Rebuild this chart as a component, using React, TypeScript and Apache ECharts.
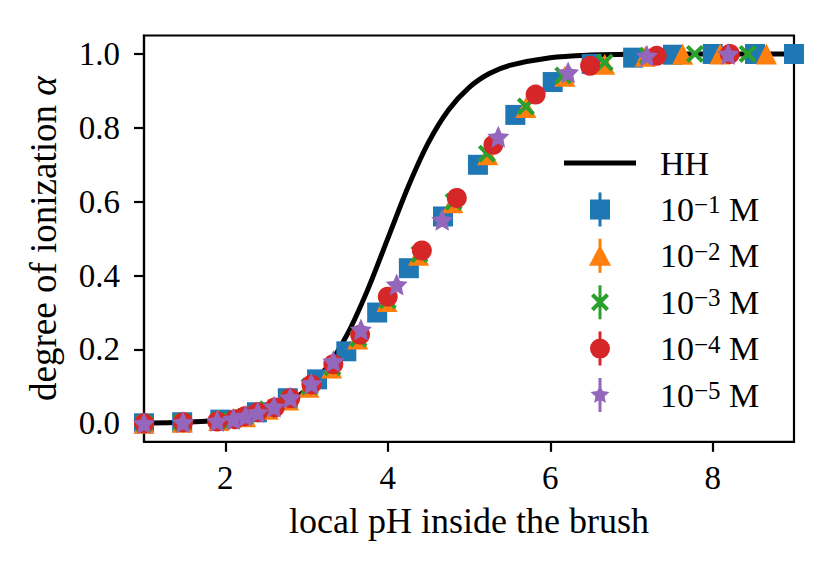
import React, { useEffect, useRef } from "react";
import * as echarts from "echarts";

const FONT = "Liberation Serif";

const X_TICKS = [2, 4, 6, 8];
const Y_TICKS = [0, 0.2, 0.4, 0.6, 0.8, 1.0];

const HH_PH = [1, 1.5, 2, 2.25, 2.5, 2.75, 3, 3.25, 3.5, 3.75, 4, 4.25, 4.5, 4.75, 5, 5.25, 5.5, 6, 6.5, 7, 8, 9];
const HH_ALPHA = [0.001, 0.003, 0.01, 0.018, 0.031, 0.053, 0.091, 0.151, 0.24, 0.36, 0.5, 0.64, 0.76, 0.849, 0.909, 0.947, 0.969, 0.99, 0.997, 0.999, 1.0, 1.0];

const PH_1 = [1.0, 1.47, 1.94, 2.39, 2.77, 3.13, 3.49, 3.87, 4.26, 4.68, 5.11, 5.57, 6.03, 6.51, 7.02, 7.51, 8.0, 8.52, 9.0];
const A_1 = [0.0, 0.003, 0.01, 0.03, 0.068, 0.119, 0.195, 0.3, 0.42, 0.56, 0.7, 0.835, 0.924, 0.973, 0.99, 0.998, 1.0, 1.0, 1.0];

const PH_2 = [1.0, 1.47, 1.92, 2.25, 2.53, 2.78, 3.03, 3.31, 3.63, 3.99, 4.38, 4.8, 5.23, 5.7, 6.18, 6.67, 7.17, 7.63, 8.09, 8.66];
const A_2 = [0.0, 0.003, 0.008, 0.018, 0.038, 0.063, 0.098, 0.15, 0.228, 0.33, 0.455, 0.597, 0.727, 0.855, 0.94, 0.972, 0.994, 0.999, 1.0, 1.0];

const PH_3 = [1.0, 1.47, 1.92, 2.24, 2.52, 2.78, 3.04, 3.32, 3.64, 4.0, 4.39, 4.81, 5.22, 5.7, 6.16, 6.67, 7.2, 7.78, 8.43];
const A_3 = [0.0, 0.003, 0.008, 0.018, 0.038, 0.064, 0.1, 0.152, 0.23, 0.333, 0.458, 0.6, 0.73, 0.858, 0.942, 0.977, 0.995, 1.0, 1.0];

const PH_4 = [1.0, 1.48, 1.9, 2.12, 2.24, 2.4, 2.61, 2.8, 3.06, 3.33, 3.66, 4.0, 4.42, 4.85, 5.3, 5.82, 6.49, 7.31, 8.21];
const A_4 = [0.0, 0.003, 0.005, 0.011, 0.019, 0.03, 0.043, 0.068, 0.105, 0.16, 0.24, 0.343, 0.468, 0.61, 0.754, 0.89, 0.968, 0.995, 1.0];

const PH_5 = [1.0, 1.48, 1.9, 2.1, 2.25, 2.4, 2.6, 2.8, 3.06, 3.33, 3.67, 4.11, 4.67, 5.36, 6.22, 7.19, 8.19];
const A_5 = [0.0, 0.003, 0.006, 0.012, 0.02, 0.03, 0.045, 0.07, 0.108, 0.168, 0.254, 0.376, 0.551, 0.776, 0.95, 0.995, 1.0];

const SERIES_NAMES = ["10^-1 M", "10^-2 M", "10^-3 M", "10^-4 M", "10^-5 M"];
const EXPONENTS = ["1", "2", "3", "4", "5"];
const COLORS = ["#1f77b4", "#ff7f0e", "#2ca02c", "#d62728", "#9467bd"];

const X_PATH = "M0,16L16,0L50,34L84,0L100,16L66,50L100,84L84,100L50,66L16,100L0,84L34,50Z";
const STAR_PATH = "M50,0L64.11,30.58L97.55,34.55L72.83,57.42L79.39,90.45L50,74L20.61,90.45L27.17,57.42L2.45,34.55L35.89,30.58Z";

const BAR = "M8.5,0H11.5V34H8.5Z";
const LEGEND_ICONS = [
  "path://M0,7H20V27H0Z" + BAR,
  "path://M10,6L21,27H-1Z" + BAR,
  "path://M1,10.9L3.9,8L10,14.1L16.1,8L19,10.9L12.9,17L19,23.1L16.1,26L10,19.9L3.9,26L1,23.1L7.1,17Z" + BAR,
  "path://M0,17A10,10 0 1,1 20,17A10,10 0 1,1 0,17Z" + BAR,
  "path://M10,7L12.82,13.12L19.51,13.91L14.57,18.48L15.88,25.09L10,21.8L4.12,25.09L5.43,18.48L0.49,13.91L7.18,13.12Z" + BAR,
];
const SYMBOLS = ["rect", "triangle", "path://" + X_PATH, "circle", "path://" + STAR_PATH];
const SIZES = [20, 21, 18, 20, 22];

function zip(xs: number[], ys: number[]) {
  return xs.map((x, i) => [x, ys[i]]);
}

export default function App() {
  const ref = useRef<HTMLDivElement>(null);
  useEffect(() => {
    if (!ref.current) return;
    const chart = echarts.init(ref.current, undefined, { renderer: "svg" });
    const phs = [PH_1, PH_2, PH_3, PH_4, PH_5];
    const alphas = [A_1, A_2, A_3, A_4, A_5];
    const scatter = SERIES_NAMES.map((name, i) => ({
      type: "scatter",
      name,
      data: zip(phs[i], alphas[i]),
      symbol: SYMBOLS[i],
      symbolSize: SIZES[i],
      itemStyle: { color: COLORS[i], opacity: 1 },
      z: 3 + i,
      silent: true,
    }));
    const axisText = { fontFamily: FONT, fontSize: 33, color: "#000" };
    chart.setOption({
      animation: false,
      grid: {
        left: 144,
        right: 36,
        top: 35.5,
        bottom: 132.2,
        show: true,
        borderColor: "#000",
        borderWidth: 2.2,
      },
      legend: {
        orient: "vertical",
        left: 564,
        top: 146,
        padding: 0,
        itemWidth: 72,
        itemHeight: 34,
        itemGap: 12.4,
        selectedMode: false,
        itemStyle: { borderWidth: 0 },
        data: [
          { name: "HH", icon: "path://M0,0H72V5H0Z" },
          ...SERIES_NAMES.map((n, i) => ({ name: n, icon: LEGEND_ICONS[i] })),
        ],
        formatter: (name: string) => {
          if (name === "HH") return "{t|HH}";
          const i = SERIES_NAMES.indexOf(name);
          return `{t|10}{s|\u2212${EXPONENTS[i]}}{t| M}`;
        },
        textStyle: {
          padding: [0, 0, 0, 19],
          rich: {
            t: { fontFamily: FONT, fontSize: 34, lineHeight: 34, color: "#000", verticalAlign: "bottom" },
            s: { fontFamily: FONT, fontSize: 25, lineHeight: 14, color: "#000", verticalAlign: "top" },
          },
        },
      },
      xAxis: {
        type: "value",
        min: 1,
        max: 9,
        axisLine: { show: true, onZero: false, lineStyle: { color: "#000", width: 2.2 } },
        axisTick: { show: true, length: 10, customValues: X_TICKS, lineStyle: { color: "#000", width: 2.2 } },
        axisLabel: { ...axisText, customValues: X_TICKS, margin: 20, formatter: (v: number) => String(v) },
        splitLine: { show: false },
        name: "local pH inside the brush",
        nameLocation: "middle",
        nameGap: 61,
        nameTextStyle: { ...axisText, fontSize: 36 },
      },
      yAxis: {
        type: "value",
        min: -0.05,
        max: 1.05,
        axisLine: { show: true, onZero: false, lineStyle: { color: "#000", width: 2.2 } },
        axisTick: { show: true, length: 10, customValues: Y_TICKS, lineStyle: { color: "#000", width: 2.2 } },
        axisLabel: { ...axisText, customValues: Y_TICKS, margin: 24, formatter: (v: number) => v.toFixed(1) },
        splitLine: { show: false },
        name: "degree of ionization {i|\u03b1}",
        nameLocation: "middle",
        nameGap: 82,
        nameTextStyle: {
          ...axisText,
          fontSize: 37,
          rich: {
            i: { fontFamily: FONT, fontSize: 37, fontStyle: "italic", color: "#000" },
          },
        },
      },
      series: [
        {
          type: "line",
          name: "HH",
          data: zip(HH_PH, HH_ALPHA),
          smooth: 0.3,
          symbol: "none",
          showSymbol: false,
          lineStyle: { color: "#000", width: 5 },
          itemStyle: { color: "#000" },
          z: 2,
          silent: true,
        },
        ...scatter,
      ],
    });
    return () => chart.dispose();
  }, []);
  return (
    <div
      ref={ref}
      style={{ position: "fixed", left: 0, top: 0, width: 830, height: 574, background: "#fff" }}
    />
  );
}
